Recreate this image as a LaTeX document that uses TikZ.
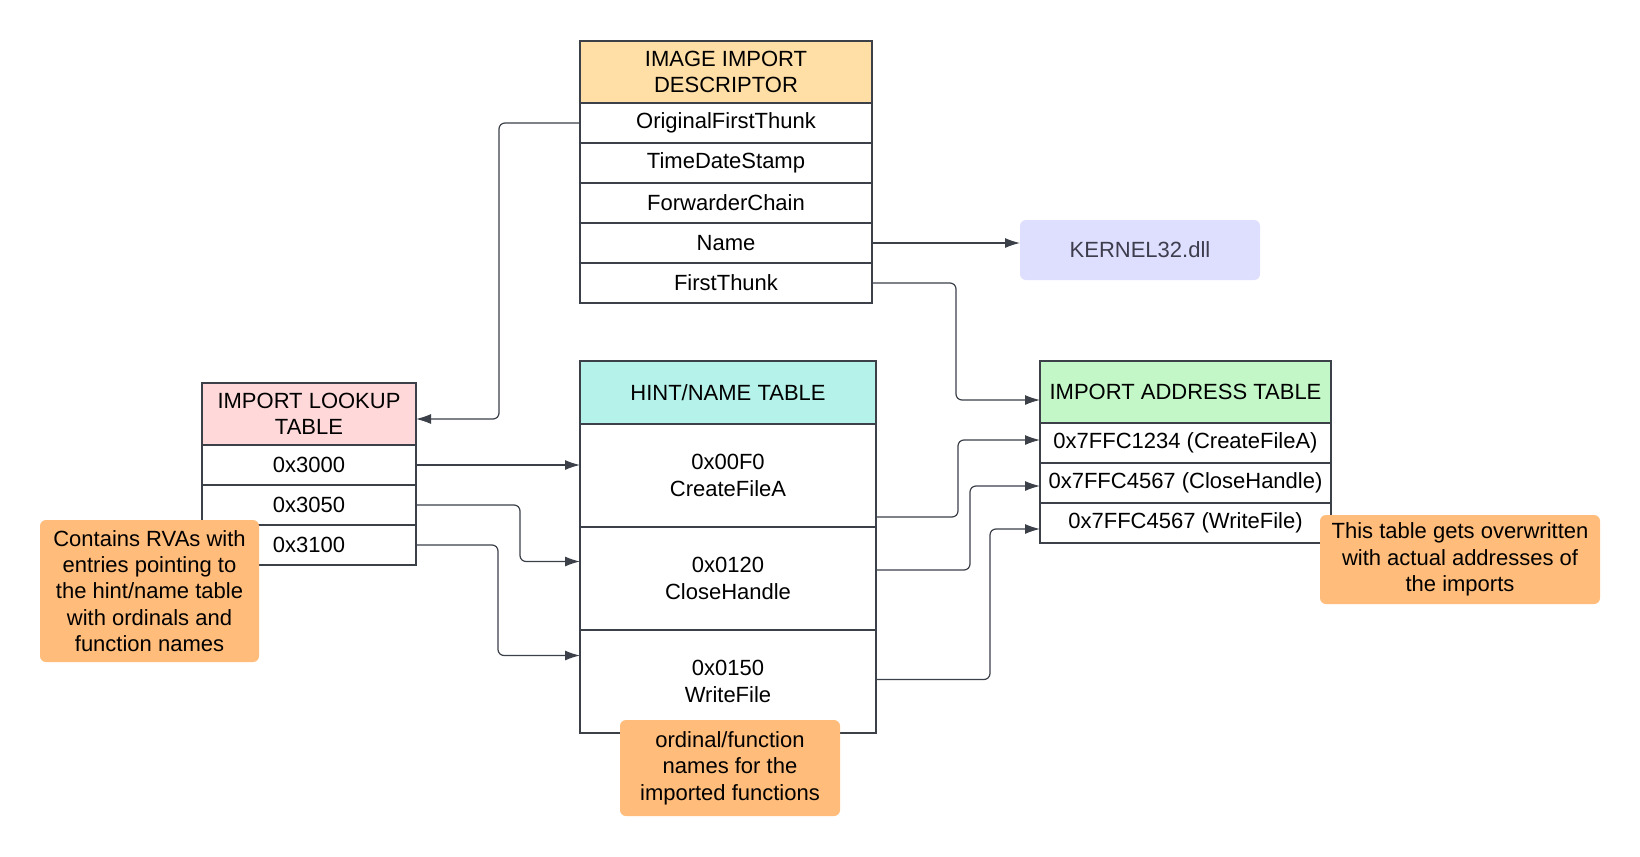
\documentclass[tikz,border=0pt]{standalone}
\usepackage{fontspec}
\setmainfont{Liberation Sans}
\usetikzlibrary{arrows.meta,positioning,calc}

\definecolor{linegray}{HTML}{3B4049}
\definecolor{descorange}{HTML}{FFDFA6}
\definecolor{lookuppink}{HTML}{FFD9D9}
\definecolor{hintcyan}{HTML}{B5F2EA}
\definecolor{addrgreen}{HTML}{C3F7C8}
\definecolor{dllblue}{HTML}{DEDEFF}
\definecolor{dlltext}{HTML}{3D3D4D}
\definecolor{noteorange}{HTML}{FFBC7A}

\begin{document}
\begin{tikzpicture}[
    x=0.5pt, y=-0.5pt,
    every node/.style={font=\fontsize{11}{13.2}\selectfont, align=center, inner sep=1pt, outer sep=0pt},
    hdr/.style={draw=linegray, line width=0.6pt, anchor=north west, minimum height=31pt},
    cell/.style={draw=linegray, line width=0.6pt, minimum height=20pt, below=0pt of #1},
    bigcell/.style={draw=linegray, line width=0.6pt, minimum height=51.5pt, below=0pt of #1},
    note/.style={fill=noteorange, rounded corners=3pt, anchor=north west},
    conn/.style={draw=linegray, line width=0.6pt, rounded corners=3pt, -{Latex[length=7.5pt,width=5pt]}}
]
\useasboundingbox (0,0) rectangle (1640,857);

% image import descriptor
\node[hdr, fill=descorange, minimum width=146pt] (iid) at (580,41) {IMAGE IMPORT\\DESCRIPTOR};
\node[cell=iid, minimum width=146pt] (oft) {OriginalFirstThunk};
\node[cell=oft, minimum width=146pt] (tds) {TimeDateStamp};
\node[cell=tds, minimum width=146pt] (fwd) {ForwarderChain};
\node[cell=fwd, minimum width=146pt] (name) {Name};
\node[cell=name, minimum width=146pt] (ft) {FirstThunk};

\node[fill=dllblue, rounded corners=3pt, anchor=north west, minimum width=120pt, minimum height=30pt, text=dlltext] (dll) at (1020,220) {KERNEL32.dll};

% import lookup table
\node[hdr, fill=lookuppink, minimum width=107pt] (ilt) at (202,383) {IMPORT LOOKUP\\TABLE};
\node[cell=ilt, minimum width=107pt] (ilt1) {0x3000};
\node[cell=ilt1, minimum width=107pt] (ilt2) {0x3050};
\node[cell=ilt2, minimum width=107pt] (ilt3) {0x3100};

% hint/name table
\node[hdr, fill=hintcyan, minimum width=148pt, minimum height=31.5pt] (hnt) at (580,361) {HINT/NAME TABLE};
\node[bigcell=hnt, minimum width=148pt] (hnt1) {0x00F0\\CreateFileA};
\node[bigcell=hnt1, minimum width=148pt] (hnt2) {0x0120\\CloseHandle};
\node[bigcell=hnt2, minimum width=148pt] (hnt3) {0x0150\\WriteFile};

% import address table
\node[hdr, fill=addrgreen, minimum width=145.5pt] (iat) at (1040,361) {IMPORT ADDRESS TABLE};
\node[cell=iat, minimum width=145.5pt] (iat1) {0x7FFC1234 (CreateFileA)};
\node[cell=iat1, minimum width=145.5pt] (iat2) {0x7FFC4567 (CloseHandle)};
\node[cell=iat2, minimum width=145.5pt] (iat3) {0x7FFC4567 (WriteFile)};

% notes
\node[note, minimum width=109.5pt, minimum height=71pt] (noteilt) at (40,520) {Contains RVAs with\\entries pointing to\\the hint/name table\\with ordinals and\\function names};
\node[note, minimum width=110pt, minimum height=48pt] (notehnt) at (620,720) {ordinal/function\\names for the\\imported functions};
\node[note, minimum width=140pt, minimum height=44.5pt] (noteiat) at (1320,515) {This table gets overwritten\\with actual addresses of\\the imports};

% connectors
\draw[conn] (oft.west) -- ++(-81,0) |- ([yshift=-2.5pt]ilt.east);
\draw[conn] (name.east) -- (name.east -| dll.west);
\draw[conn] (ft.east) -- ++(84,0) |- ([yshift=-4pt]iat.west);
\draw[conn] (ilt1.east) -- (ilt1.east -| hnt1.west);
\draw[conn] (ilt2.east) -- ++(104,0) |- ([yshift=8.5pt]hnt2.west);
\draw[conn] (ilt3.east) -- ++(82,0) |- ([yshift=13pt]hnt3.west);
\draw[conn] ([yshift=-20.75pt]hnt1.east) -- ++(82,0) |- ([yshift=1.5pt]iat1.west);
\draw[conn] ([yshift=4.25pt]hnt2.east) -- ++(94,0) |- ([yshift=-1.5pt]iat2.west);
\draw[conn] ([yshift=1pt]hnt3.east) -- ++(114,0) |- ([yshift=-3pt]iat3.west);
\end{tikzpicture}
\end{document}
